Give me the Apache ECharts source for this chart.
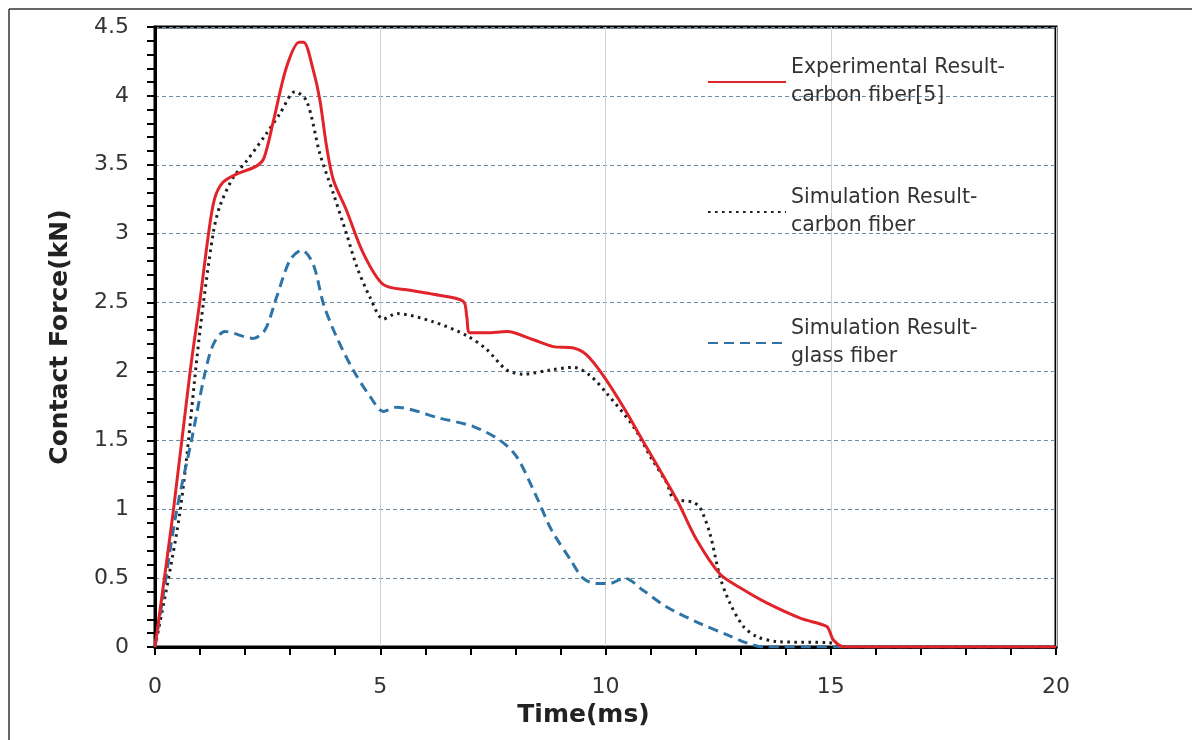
<!DOCTYPE html>
<html>
<head>
<meta charset="utf-8">
<script src="https://cdn.jsdelivr.net/npm/echarts@6/dist/echarts.min.js"></script>
<style>
  html, body { margin: 0; padding: 0; background: #fff; }
  #chart { width: 1192px; height: 740px; }
</style>
</head>
<body>
<div id="chart"></div>
<script>
// Contact force history, time in ms, force in kN
const timeExp = [0, 0.4, 0.78, 1.0, 1.18, 1.32, 1.5, 1.8, 2.25, 2.42, 2.63, 2.92, 3.2, 3.3, 3.51, 3.66, 3.81, 3.96, 4.25, 4.62, 5.07, 5.66, 6.18, 6.84, 6.92, 6.99, 7.36, 7.81, 8.4, 8.84, 9.29, 9.58, 9.95, 10.4, 10.84, 11.58, 12.02, 12.54, 12.99, 13.58, 14.32, 14.91, 14.98, 15.06, 15.3, 20];
const forceExp = [0, 0.97, 2.0, 2.52, 2.98, 3.25, 3.37, 3.43, 3.49, 3.55, 3.82, 4.21, 4.39, 4.39, 4.19, 3.97, 3.63, 3.39, 3.17, 2.86, 2.63, 2.59, 2.56, 2.51, 2.4, 2.28, 2.28, 2.29, 2.23, 2.18, 2.17, 2.12, 1.97, 1.74, 1.49, 1.07, 0.78, 0.53, 0.43, 0.32, 0.21, 0.15, 0.11, 0.05, 0, 0];

const timeSimCarbon = [0, 0.55, 1.0, 1.29, 1.44, 1.74, 2.04, 2.48, 2.77, 3.11, 3.37, 3.66, 3.96, 4.25, 4.48, 4.77, 5.07, 5.36, 6.18, 6.92, 7.36, 7.81, 8.18, 8.77, 9.29, 9.66, 10.03, 10.62, 11.0, 11.36, 11.51, 11.95, 12.1, 12.32, 12.54, 12.76, 13.06, 13.36, 13.8, 14.98, 15.3, 20];
const forceSimCarbon = [0, 0.97, 2.3, 3.0, 3.2, 3.41, 3.53, 3.73, 3.87, 4.03, 3.96, 3.58, 3.29, 3.0, 2.76, 2.54, 2.38, 2.42, 2.36, 2.26, 2.16, 2.01, 1.98, 2.01, 2.03, 1.97, 1.84, 1.6, 1.38, 1.19, 1.08, 1.05, 1.01, 0.82, 0.51, 0.32, 0.15, 0.075, 0.04, 0.03, 0, 0];

const timeSimGlass = [0, 0.18, 0.48, 0.81, 1.11, 1.3, 1.55, 2.18, 2.44, 2.7, 3.0, 3.26, 3.51, 3.74, 4.03, 4.4, 4.77, 5.07, 5.36, 6.33, 7.07, 7.66, 8.03, 8.47, 8.8, 9.23, 9.5, 9.8, 10.08, 10.42, 10.84, 11.36, 12.1, 12.69, 13.13, 13.5, 20];
const forceSimGlass = [0, 0.37, 0.99, 1.5, 1.99, 2.2, 2.29, 2.24, 2.3, 2.54, 2.81, 2.88, 2.78, 2.49, 2.25, 2.01, 1.82, 1.71, 1.74, 1.66, 1.6, 1.5, 1.38, 1.09, 0.85, 0.63, 0.5, 0.46, 0.46, 0.5, 0.41, 0.29, 0.17, 0.09, 0.03, 0, 0];

const seriesNames = [
  'Experimental Result-\ncarbon fiber[5]',
  'Simulation Result-\ncarbon fiber',
  'Simulation Result-\nglass fiber'
];
const xTicks = { min: 0, max: 20, step: 5 };
const yTicks = { min: 0, max: 4.5, step: 0.5 };

const zip = (xs, ys) => xs.map((x, i) => [x, ys[i]]);

const textFont = '"DejaVu Sans", sans-serif';

const legendText = {
  fontFamily: textFont,
  fontSize: 20.5,
  color: '#333',
  lineHeight: 28,
  padding: [28, 0, 0, 0]
};

function legendAt(name, top) {
  return {
    data: [name],
    left: 702,
    top: top,
    orient: 'vertical',
    itemWidth: 78,
    itemHeight: 14,
    itemGap: 4,
    selectedMode: false,
    itemStyle: { opacity: 0, borderWidth: 0 },
    textStyle: legendText
  };
}

const chart = echarts.init(document.getElementById('chart'), null, { renderer: 'canvas' });

chart.setOption({
  backgroundColor: '#fff',
  animation: false,
  graphic: [
    { type: 'line', shape: { x1: 9, y1: 9, x2: 1192, y2: 9 }, style: { stroke: '#333', lineWidth: 1.5 } },
    { type: 'line', shape: { x1: 9, y1: 9, x2: 9, y2: 740 }, style: { stroke: '#333', lineWidth: 1.5 } }
  ],
  grid: {
    left: 155, top: 27, right: 136, bottom: 93,
    show: true, borderColor: '#000', borderWidth: 3, backgroundColor: 'transparent'
  },
  legend: [
    legendAt(seriesNames[0], 35),
    legendAt(seriesNames[1], 165),
    legendAt(seriesNames[2], 296)
  ],
  xAxis: {
    type: 'value',
    min: xTicks.min, max: xTicks.max, interval: xTicks.step,
    name: 'Time(ms)',
    nameLocation: 'middle',
    nameGap: 55,
    nameTextStyle: { fontFamily: textFont, fontSize: 25, fontWeight: 'bold', color: '#222', padding: [0, 44, 0, 0] },
    axisLine: { show: true, lineStyle: { color: '#000', width: 3 } },
    axisTick: { show: true, inside: false, length: 8, lineStyle: { color: '#000', width: 2 } },
    minorTick: { show: true, splitNumber: 5, length: 8, lineStyle: { color: '#000', width: 2 } },
    axisLabel: { margin: 29, fontFamily: textFont, fontSize: 22, color: '#333' },
    splitLine: { show: true, lineStyle: { color: '#d0d0d0', width: 1 } }
  },
  yAxis: {
    type: 'value',
    min: yTicks.min, max: yTicks.max, interval: yTicks.step,
    name: 'Contact Force(kN)',
    nameLocation: 'middle',
    nameGap: 82,
    nameTextStyle: { fontFamily: textFont, fontSize: 25, fontWeight: 'bold', color: '#222' },
    axisLine: { show: true, lineStyle: { color: '#000', width: 3 } },
    axisTick: { show: true, inside: false, length: 8, lineStyle: { color: '#000', width: 2 } },
    minorTick: { show: true, splitNumber: 5, length: 8, lineStyle: { color: '#000', width: 2 } },
    axisLabel: { margin: 26, fontFamily: textFont, fontSize: 22, color: '#333' },
    splitLine: { show: true, lineStyle: { color: '#6f8ca3', width: 1, type: [4, 3] } }
  },
  series: [
    {
      name: seriesNames[0],
      type: 'line',
      data: zip(timeExp, forceExp),
      symbol: 'none',
      smooth: 0.3,
      z: 4,
      lineStyle: { color: '#e0242a', width: 3 },
      itemStyle: { color: '#e0242a' }
    },
    {
      name: seriesNames[1],
      type: 'line',
      data: zip(timeSimCarbon, forceSimCarbon),
      symbol: 'none',
      smooth: 0.3,
      z: 3,
      lineStyle: { color: '#1e1e1e', width: 3, type: [2.6, 4.4] },
      itemStyle: { color: '#1e1e1e' }
    },
    {
      name: seriesNames[2],
      type: 'line',
      data: zip(timeSimGlass, forceSimGlass),
      symbol: 'none',
      smooth: 0.3,
      z: 3,
      lineStyle: { color: '#2f74a6', width: 3, type: [10, 6] },
      itemStyle: { color: '#2f74a6' }
    }
  ]
});
</script>
</body>
</html>
